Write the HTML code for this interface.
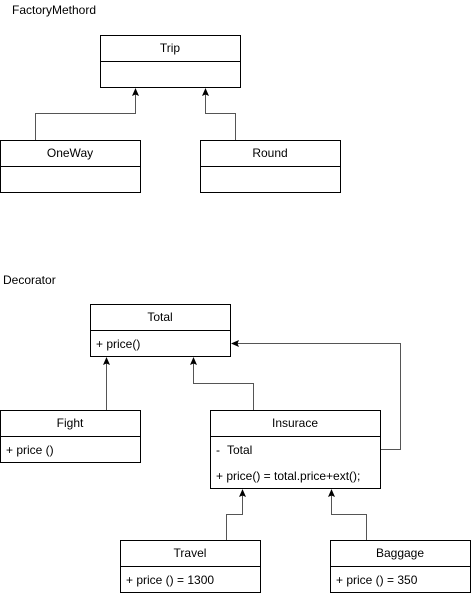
<!DOCTYPE html>
<html><head><style>body{margin:0;background:#fff}</style></head><body>
<svg width="471" height="596" xmlns="http://www.w3.org/2000/svg" font-family="Liberation Sans, sans-serif" font-size="12" fill="#000">
<defs><marker id="a" markerWidth="9" markerHeight="9" refX="7" refY="4" orient="auto" markerUnits="userSpaceOnUse"><path d="M0,0.5 L8,4 L0,7.5 L1.5,4 Z" fill="#000"/></marker></defs>
<rect width="471" height="596" fill="#fff"/>
<text x="12" y="14">FactoryMethord</text>
<text x="3" y="284">Decorator</text>
<g fill="none" stroke="#000" stroke-width="1">
<rect x="100.5" y="35.5" width="140" height="52"/><line x1="100" y1="61.5" x2="240" y2="61.5"/>
<rect x="0.5" y="140.5" width="140" height="52"/><line x1="0" y1="166.5" x2="140" y2="166.5"/>
<rect x="200.5" y="140.5" width="140" height="52"/><line x1="200" y1="166.5" x2="340" y2="166.5"/>
<rect x="90.5" y="304.5" width="140" height="52"/><line x1="90" y1="330.5" x2="230" y2="330.5"/>
<rect x="0.5" y="410.5" width="140" height="52"/><line x1="0" y1="436.5" x2="140" y2="436.5"/>
<rect x="210.5" y="410.5" width="170" height="78"/><line x1="210" y1="436.5" x2="380" y2="436.5"/>
<rect x="120.5" y="540.5" width="140" height="52"/><line x1="120" y1="566.5" x2="260" y2="566.5"/>
<rect x="330.5" y="540.5" width="140" height="52"/><line x1="330" y1="566.5" x2="470" y2="566.5"/>
</g>
<g fill="none" stroke="#555" stroke-width="1">
<polyline points="35.5,140 35.5,113.5 135.5,113.5 135.5,89" marker-end="url(#a)"/>
<polyline points="235.5,140 235.5,113.5 205.5,113.5 205.5,89" marker-end="url(#a)"/>
<polyline points="106.5,410 106.5,358" marker-end="url(#a)"/>
<polyline points="253.5,410 253.5,383.5 193.5,383.5 193.5,358" marker-end="url(#a)"/>
<polyline points="381,449.5 400.5,449.5 400.5,343.5 232,343.5" marker-end="url(#a)"/>
<polyline points="226.5,540 226.5,514.5 242.5,514.5 242.5,490" marker-end="url(#a)"/>
<polyline points="366.5,540 366.5,514.5 331.5,514.5 331.5,490" marker-end="url(#a)"/>
</g>
<g text-anchor="middle">
<text x="170" y="52">Trip</text>
<text x="70" y="157">OneWay</text>
<text x="270" y="157">Round</text>
<text x="160" y="321">Total</text>
<text x="70" y="427">Fight</text>
<text x="295" y="427">Insurace</text>
<text x="190" y="557">Travel</text>
<text x="400" y="557">Baggage</text>
</g>
<text x="96" y="348">+ price()</text>
<text x="6" y="454">+ price ()</text>
<text x="216" y="454">-</text><text x="227" y="454">Total</text>
<text x="216" y="480">+ price() = total.price+ext();</text>
<text x="126" y="584">+ price () = 1300</text>
<text x="336" y="584">+ price () = 350</text>
</svg>
</body></html>
